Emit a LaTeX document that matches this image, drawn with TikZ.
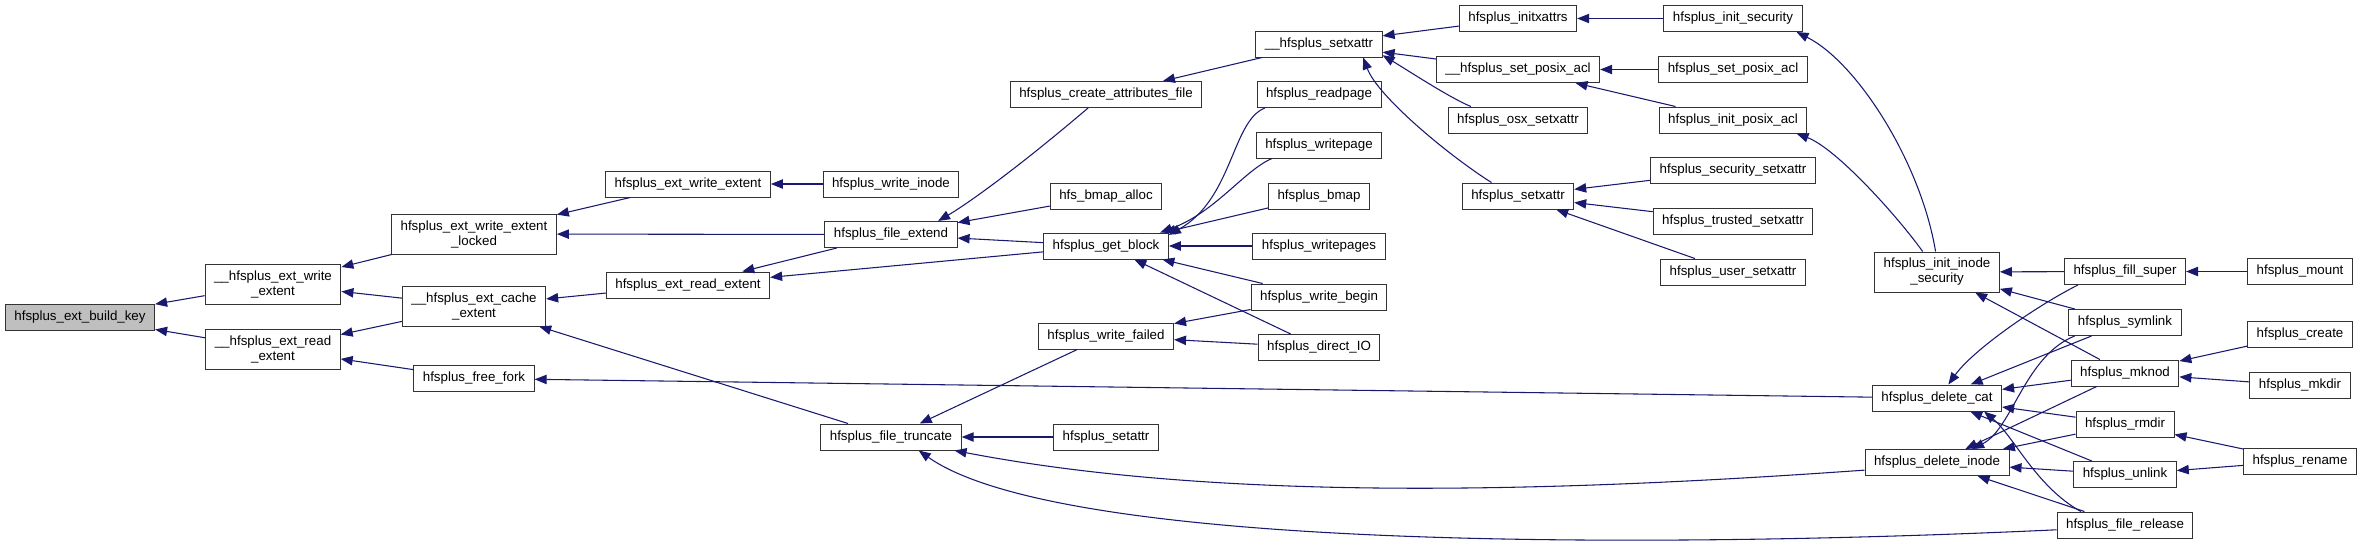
\documentclass[tikz,border=0pt]{standalone}
\usepackage{fontspec}
\setmainfont{Liberation Sans}
\usetikzlibrary{arrows.meta}
\definecolor{edgeblue}{HTML}{191970}

\begin{document}
\begin{tikzpicture}[
  x=0.75pt, y=-0.75pt,
  font=\fontsize{10}{11.25}\selectfont,
  fn/.style={draw=black!80, line width=0.75pt, fill=white, align=center,
             inner xsep=6.75pt, inner ysep=2pt, minimum height=19.5pt},
  two/.style={minimum height=30pt},
  root/.style={fn, fill=black!25},
  arr/.style={{Triangle[length=9pt,width=7pt]}-, color=edgeblue, line width=0.8pt}]
\useasboundingbox (0,0) rectangle (2363,544);

% Rank 0 and 1
\node[root] (bkey) at (80,317) {hfsplus\_ext\_build\_key};
\node[fn, two] (wext) at (273,284) {\_\_hfsplus\_ext\_write\\\_extent};
\node[fn, two] (rext) at (273,349) {\_\_hfsplus\_ext\_read\\\_extent};

% Rank 2
\node[fn, two] (wlock) at (474,234) {hfsplus\_ext\_write\_extent\\\_locked};
\node[fn, two] (cache) at (474,306) {\_\_hfsplus\_ext\_cache\\\_extent};
\node[fn] (ffork) at (474,378.5) {hfsplus\_free\_fork};

% Rank 3 and 4
\node[fn] (ewext) at (688,184) {hfsplus\_ext\_write\_extent};
\node[fn] (erext) at (688,285) {hfsplus\_ext\_read\_extent};
\node[fn] (winode) at (891,184) {hfsplus\_write\_inode};
\node[fn] (fext) at (891,234.5) {hfsplus\_file\_extend};
\node[fn] (ftrunc) at (891,437) {hfsplus\_file\_truncate};

% Rank 5
\node[fn] (cattr) at (1106,94.5) {hfsplus\_create\_attributes\_file};
\node[fn] (bmapa) at (1106,196) {hfs\_bmap\_alloc};
\node[fn] (gblk) at (1106,246) {hfsplus\_get\_block};
\node[fn] (wfail) at (1106,336) {hfsplus\_write\_failed};
\node[fn] (sattr) at (1106,437) {hfsplus\_setattr};

% Rank 6
\node[fn] (sxa) at (1319,44) {\_\_hfsplus\_setxattr};
\node[fn] (rpage) at (1319,94.5) {hfsplus\_readpage};
\node[fn] (wpage) at (1319,145) {hfsplus\_writepage};
\node[fn] (bmap) at (1319,196) {hfsplus\_bmap};
\node[fn] (wpages) at (1319,246) {hfsplus\_writepages};
\node[fn] (wbegin) at (1319,297) {hfsplus\_write\_begin};
\node[fn] (dio) at (1319,347.5) {hfsplus\_direct\_IO};

% Rank 7
\node[fn] (ixattr) at (1518,18.5) {hfsplus\_initxattrs};
\node[fn] (spacl) at (1518,69.5) {\_\_hfsplus\_set\_posix\_acl};
\node[fn] (osx) at (1518,120) {hfsplus\_osx\_setxattr};
\node[fn] (setx) at (1518,196) {hfsplus\_setxattr};

% Rank 8
\node[fn] (isec) at (1733,18.5) {hfsplus\_init\_security};
\node[fn] (setpacl) at (1733,69.5) {hfsplus\_set\_posix\_acl};
\node[fn] (ipacl) at (1733,120) {hfsplus\_init\_posix\_acl};
\node[fn] (secx) at (1733,170.5) {hfsplus\_security\_setxattr};
\node[fn] (trux) at (1733,221) {hfsplus\_trusted\_setxattr};
\node[fn] (usrx) at (1733,272) {hfsplus\_user\_setxattr};

% Rank 9
\node[fn, two] (iisec) at (1937,272) {hfsplus\_init\_inode\\\_security};
\node[fn] (dcat) at (1937,398) {hfsplus\_delete\_cat};
\node[fn] (dino) at (1937,462.5) {hfsplus\_delete\_inode};

% Rank 10
\node[fn] (fsup) at (2125,271.5) {hfsplus\_fill\_super};
\node[fn] (slink) at (2125,322.5) {hfsplus\_symlink};
\node[fn] (mknod) at (2125,373) {hfsplus\_mknod};
\node[fn] (rmdir) at (2125,424) {hfsplus\_rmdir};
\node[fn] (unlink) at (2125,474.5) {hfsplus\_unlink};
\node[fn] (frel) at (2125,525) {hfsplus\_file\_release};

% Rank 11
\node[fn] (mount) at (2300,271.5) {hfsplus\_mount};
\node[fn] (create) at (2300,334.5) {hfsplus\_create};
\node[fn] (mkdir) at (2300,385.5) {hfsplus\_mkdir};
\node[fn] (rename) at (2300,461) {hfsplus\_rename};

% Callers, left part
\draw[arr] (bkey)--(wext); \draw[arr] (bkey)--(rext);
\draw[arr] (wext)--(wlock); \draw[arr] (wext)--(cache);
\draw[arr] (rext)--(cache); \draw[arr] (rext)--(ffork);
\draw[arr] (wlock)--(ewext); \draw[arr] (wlock)--(fext);
\draw[arr] (cache)--(erext); \draw[arr] (cache)--(ftrunc);
\draw[arr] (ffork)--(dcat);
\draw[arr] (ewext)--(winode);
\draw[arr] (erext)--(fext); \draw[arr] (erext)--(gblk);
\draw[arr] (fext)--(bmapa); \draw[arr] (fext)--(gblk);
\draw[arr] (fext.16) .. controls +(24,-14) and +(-80,68) .. (cattr.217);
\draw[arr] (ftrunc)--(wfail); \draw[arr] (ftrunc)--(sattr);
\draw[arr] (ftrunc.348) .. controls +(250,48) and +(-350,25) .. (dino.186);
\draw[arr] (ftrunc.334) .. controls +(142,100) and +(-407,19) .. (frel.184);

% Callers, middle part
\draw[arr] (cattr)--(sxa);
\draw[arr] (gblk.10) .. controls +(64,-36) and +(-33,13) .. (rpage.194);
\draw[arr] (gblk.14) .. controls +(55,-20) and +(-28,12) .. (wpage.196);
\draw[arr] (gblk)--(bmap); \draw[arr] (gblk)--(wpages);
\draw[arr] (gblk)--(wbegin); \draw[arr] (gblk)--(dio);
\draw[arr] (wfail)--(wbegin); \draw[arr] (wfail)--(dio);
\draw[arr] (sxa)--(ixattr); \draw[arr] (sxa)--(spacl);
\draw[arr] (sxa.350) .. controls +(25,15) and +(-20,-8) .. (osx.164);
\draw[arr] (sxa.343) .. controls +(15,40) and +(-40,-25) .. (setx.153);
\draw[arr] (ixattr)--(isec);
\draw[arr] (spacl)--(setpacl); \draw[arr] (spacl)--(ipacl);
\draw[arr] (setx)--(secx); \draw[arr] (setx)--(trux); \draw[arr] (setx)--(usrx);

% Callers, right part
\draw[arr] (isec.348) .. controls +(60,30) and +(-15,-90) .. (iisec.94);
\draw[arr] (ipacl.348) .. controls +(40,15) and +(-25,-35) .. (iisec.125);
\draw[arr] (iisec)--(fsup); \draw[arr] (iisec)--(slink); \draw[arr] (iisec)--(mknod);
\draw[arr] (dcat.50) .. controls +(25,-35) and +(-40,20) .. (fsup.196);
\draw[arr] (dcat)--(slink); \draw[arr] (dcat)--(mknod);
\draw[arr] (dcat)--(rmdir); \draw[arr] (dcat)--(unlink);
\draw[arr] (dcat.344) .. controls +(30,25) and +(-45,-25) .. (frel.163);
\draw[arr] (dino.21) .. controls +(40,-20) and +(-50,20) .. (slink.195);
\draw[arr] (dino)--(mknod); \draw[arr] (dino)--(rmdir);
\draw[arr] (dino)--(unlink); \draw[arr] (dino)--(frel);
\draw[arr] (fsup)--(mount);
\draw[arr] (mknod)--(create); \draw[arr] (mknod)--(mkdir);
\draw[arr] (rmdir)--(rename); \draw[arr] (unlink)--(rename);
\end{tikzpicture}
\end{document}
